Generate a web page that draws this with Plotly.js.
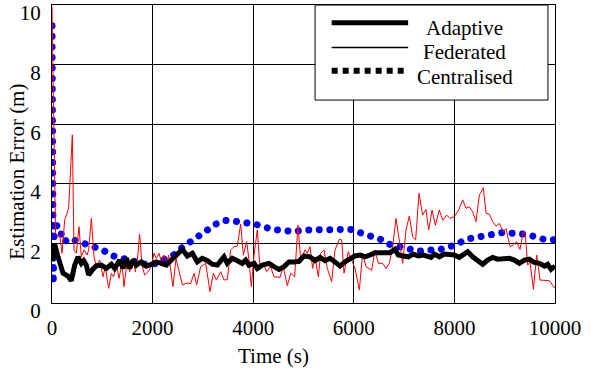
<!DOCTYPE html>
<html>
<head>
<meta charset="utf-8">
<script src="https://cdn.plot.ly/plotly-3.0.1.min.js"></script>
<style>html,body{margin:0;padding:0;background:#fff;}</style>
</head>
<body>
<div id="chart" style="width:590px;height:374px;"></div>
<script>
// ---- data ----
const adaptiveX = [0,50,119,219,318,384,451,517,583,630,683,729,795,882,981,1080,1180,1246,1345,1412,1478,1544,1610,1677,1776,1875,1975,2074,2174,2273,2372,2472,2525,2591,2690,2790,2889,2988,3088,3187,3286,3419,3485,3585,3684,3784,3850,3916,4016,4082,4181,4314,4413,4513,4612,4712,4811,4911,5010,5129,5229,5328,5427,5527,5626,5726,5825,5924,6024,6123,6223,6322,6421,6521,6620,6720,6819,6885,6985,7084,7184,7283,7383,7482,7535,7601,7700,7800,7899,7999,8098,8198,8264,8363,8463,8562,8662,8761,8861,8960,9093,9192,9292,9391,9491,9590,9689,9789,9855,9922,10000];
const adaptiveY = [1.4,2.0,1.55,1.0,0.9,0.75,1.27,1.55,1.33,1.42,1.27,0.94,1.1,1.25,1.27,1.16,1.3,1.16,1.44,1.16,1.5,1.16,1.44,1.27,1.38,1.24,1.3,1.38,1.33,1.27,1.44,1.6,1.72,1.8,1.58,1.67,1.38,1.5,1.42,1.3,1.27,1.55,1.33,1.5,1.42,1.33,1.44,1.27,1.33,1.16,1.27,1.33,1.22,1.13,1.22,1.38,1.38,1.4,1.58,1.55,1.42,1.53,1.42,1.5,1.38,1.24,1.38,1.5,1.58,1.61,1.55,1.61,1.69,1.69,1.67,1.69,1.8,1.61,1.58,1.55,1.64,1.58,1.61,1.55,1.53,1.64,1.55,1.64,1.61,1.61,1.53,1.64,1.72,1.55,1.42,1.3,1.44,1.53,1.47,1.5,1.5,1.44,1.33,1.44,1.47,1.36,1.33,1.24,1.3,1.13,1.24];

const federatedX = [0,70,119,152,199,252,331,404,437,484,537,583,636,696,729,782,835,882,948,1014,1060,1126,1180,1226,1279,1332,1392,1431,1498,1544,1610,1657,1697,1743,1789,1842,1909,1975,2028,2074,2127,2174,2227,2286,2319,2405,2465,2591,2690,2757,2823,2876,2955,3055,3141,3207,3267,3353,3419,3485,3552,3618,3684,3751,3804,3870,3916,3963,4016,4082,4135,4201,4267,4346,4413,4532,4598,4678,4745,4824,4890,4944,5030,5076,5129,5182,5229,5295,5341,5408,5474,5560,5626,5713,5759,5805,5891,5957,6024,6110,6176,6243,6289,6355,6421,6488,6574,6640,6706,6773,6839,6905,6972,7038,7104,7170,7230,7296,7369,7435,7488,7555,7621,7700,7766,7846,7912,7999,8085,8165,8231,8297,8363,8429,8496,8575,8629,8695,8761,8827,8894,8973,9026,9106,9172,9238,9304,9371,9411,9457,9503,9570,9636,9702,9789,9888,10000];
const federatedY = [9.95,2.35,2.22,2.28,1.67,2.78,3.18,5.64,1.78,1.67,2.56,1.55,1.78,1.61,1.78,2.84,1.55,1.22,1.44,0.88,1.22,0.49,0.99,0.88,1.33,0.83,1.33,0.55,1.44,1.05,1.5,1.05,1.44,2.3,1.27,0.94,1.05,1.22,1.67,1.5,1.67,1.38,1.61,1.33,1.61,0.55,1.5,0.61,0.67,0.65,1.0,0.61,1.22,1.33,0.38,1.0,0.77,1.05,0.77,0.79,1.78,1.89,1.91,2.65,1.61,2.06,1.44,0.55,1.61,2.45,1.16,1.33,1.05,1.22,0.88,0.86,1.22,0.58,1.0,0.88,2.61,1.44,1.78,1.67,1.89,1.16,1.55,0.88,1.67,1.78,1.16,0.72,1.78,2.14,2.12,1.0,1.72,1.44,1.16,0.44,1.67,1.22,1.16,1.1,1.78,1.33,1.33,1.16,1.33,1.89,2.84,2.0,1.33,2.45,2.92,2.22,2.12,3.68,2.95,3.14,2.45,3.12,2.61,3.12,2.78,2.95,2.84,2.9,3.12,3.46,3.18,3.23,3.06,2.73,3.62,3.87,3.01,2.98,2.73,2.58,2.67,2.39,2.5,1.89,1.95,2.06,1.8,2.39,2.28,1.27,1.38,0.46,1.61,0.77,0.77,0.75,0.49];

const centralisedX = [0,25,45,90,120,185,240,340,484,669,835,1010,1175,1355,1537,1716,1895,2081,2266,2445,2600,2775,2942,3090,3257,3439,3641,3837,4036,4221,4413,4612,4798,4996,5195,5381,5593,5779,5977,6156,6342,6528,6706,6898,7084,7283,7485,7680,7866,8052,8231,8429,8615,8814,9006,9198,9397,9590,9776,10000];
const centralisedY = [9.3,0.65,2.75,2.65,2.36,2.31,2.05,2.17,2.08,2.02,1.87,1.78,1.6,1.52,1.47,1.39,1.28,1.33,1.47,1.64,1.88,2.06,2.24,2.45,2.65,2.77,2.74,2.71,2.65,2.55,2.46,2.44,2.39,2.45,2.45,2.48,2.47,2.49,2.47,2.34,2.26,2.14,1.97,1.89,1.82,1.74,1.78,1.78,1.87,1.97,2.14,2.2,2.25,2.34,2.38,2.33,2.31,2.23,2.14,2.12];

const seriesNames = ['Adaptive','Federated','Centralised'];
const xTickVals = [0,2000,4000,6000,8000,10000];
const xTickText = ['0','2000','4000','6000','8000','10000'];
const yTickVals = [0,2,4,6,8,10];
const yTickText = ['0','2','4','6','8','10'];
const xTitle = 'Time (s)';
const yTitle = 'Estimation Error (m)';

// ---- styling ----
const FONT = 'Liberation Serif, Times New Roman, serif';
const FS = 21;

const traces = [
  {x: centralisedX, y: centralisedY, name: seriesNames[2], mode: 'lines',
   line: {color: '#0000ff', width: 7, dash: 'dot'}, cliponaxis: false, hoverinfo: 'skip'},
  {x: federatedX, y: federatedY, name: seriesNames[1], mode: 'lines',
   line: {color: '#ff0000', width: 1}, hoverinfo: 'skip'},
  {x: adaptiveX, y: adaptiveY, name: seriesNames[0], mode: 'lines',
   line: {color: '#000000', width: 5}, hoverinfo: 'skip'}
];

// legend geometry (paper coords)
const lgX0 = 0.523, lgX1 = 0.986, lgY0 = 0.681, lgY1 = 1.0;
const lnX0 = 0.556, lnX1 = 0.708;
const lnY = [0.9406, 0.857, 0.7795];
const txX = 0.821;
const txY = [0.923, 0.842, 0.758];

const shapes = [
  {type: 'rect', xref: 'paper', yref: 'paper', x0: lgX0, x1: lgX1, y0: lgY0, y1: lgY1,
   fillcolor: 'white', line: {color: 'black', width: 1}, layer: 'above'},
  {type: 'line', xref: 'paper', yref: 'paper', x0: lnX0, x1: lnX1, y0: lnY[0], y1: lnY[0],
   line: {color: 'black', width: 5}, layer: 'above'},
  {type: 'line', xref: 'paper', yref: 'paper', x0: lnX0, x1: lnX1, y0: lnY[1], y1: lnY[1],
   line: {color: 'black', width: 1.5}, layer: 'above'},
  {type: 'line', xref: 'paper', yref: 'paper', x0: lnX0, x1: lnX1, y0: lnY[2], y1: lnY[2],
   line: {color: 'black', width: 6, dash: '6px,5px'}, layer: 'above'}
];

const annotations = seriesNames.map((n, i) => ({
  text: n, xref: 'paper', yref: 'paper', x: txX, y: txY[i], xanchor: 'center', yanchor: 'middle',
  showarrow: false, font: {family: FONT, size: FS, color: 'black'}
}));
annotations.push({text: xTitle, xref: 'paper', yref: 'paper', x: 0.441, y: -0.178,
  xanchor: 'center', yanchor: 'middle', showarrow: false, font: {family: FONT, size: FS, color: 'black'}});
annotations.push({text: yTitle, xref: 'paper', yref: 'paper', x: -0.07, y: 0.44, textangle: -90,
  xanchor: 'center', yanchor: 'middle', showarrow: false, font: {family: FONT, size: FS, color: 'black'}});

const axisCommon = {
  showgrid: true, gridcolor: 'black', gridwidth: 1,
  showline: true, mirror: true, linecolor: 'black', linewidth: 1,
  ticks: '', zeroline: false, fixedrange: true, ticklabeloverflow: 'allow',
  tickfont: {family: FONT, size: FS, color: 'black'}
};

const layout = {
  width: 590, height: 374,
  margin: {l: 52, r: 35, t: 5, b: 71},
  paper_bgcolor: 'white', plot_bgcolor: 'white',
  showlegend: false,
  font: {family: FONT, size: FS, color: 'black'},
  xaxis: Object.assign({}, axisCommon, {range: [0, 10000], tickmode: 'array', tickvals: xTickVals, ticktext: xTickText, ticklabelstandoff: 6}),
  yaxis: Object.assign({}, axisCommon, {range: [0, 10], tickmode: 'array', tickvals: yTickVals, ticktext: yTickText, ticklabelshift: 8, ticklabelstandoff: 6}),
  shapes: shapes,
  annotations: annotations
};

Plotly.newPlot('chart', traces, layout, {displayModeBar: false, staticPlot: true}).then(function (gd) {
  // render the centralised trace as round dots along its path
  const tr = gd.querySelectorAll('.scatterlayer .trace')[0];
  if (tr) {
    tr.removeAttribute('clip-path');
    tr.querySelectorAll('path.js-line').forEach(function (p) {
      p.removeAttribute('clip-path');
      p.style.strokeLinecap = 'round';
      p.style.strokeDasharray = '0.01px,10.5px';
    });
  }
});
</script>
</body>
</html>
